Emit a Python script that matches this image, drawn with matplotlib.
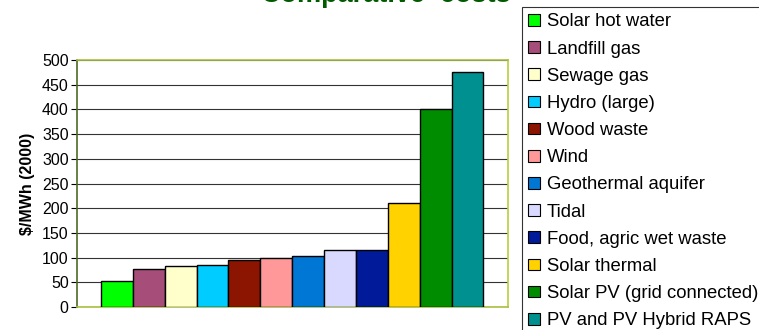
import matplotlib.pyplot as plt
import numpy as np

plt.rcParams['font.family'] = ['Liberation Sans', 'DejaVu Sans']

# data
sources = ["Solar hot water", "Landfill gas", "Sewage gas", "Hydro (large)",
           "Wood waste", "Wind", "Geothermal aquifer", "Tidal",
           "Food, agric wet waste", "Solar thermal", "Solar PV (grid connected)",
           "PV and PV Hybrid RAPS"]
costs = [52, 77, 83, 85, 95, 100, 103, 115, 115, 210, 400, 476]
colors = ["#00FF00", "#A64D79", "#FFFFCC", "#00CCFF", "#8B1500", "#FF9999",
          "#0077D4", "#D9D9FF", "#001A99", "#FFD200", "#008C00", "#009090"]

fig = plt.figure(figsize=(7.59, 3.30), dpi=100)
ax = fig.add_axes([77/759, 1-307/330, (508-77)/759, (307-60)/330])

x = np.arange(len(costs))
bars = ax.bar(x, costs, width=1.0, color=colors, edgecolor='black', linewidth=1.0,
              label=sources, zorder=3)

ax.set_xlim(-1.25, len(costs) - 1 + 1.27)
ax.set_ylim(0, 500)
ax.set_yticks(np.arange(0, 501, 50))
ax.yaxis.grid(True, color='#333333', linewidth=0.8, zorder=0)
ax.set_xticks([])
ax.tick_params(axis='y', labelsize=11.5, length=4, width=0.8, pad=2)

ax.spines['top'].set_color('#A8C040')
ax.spines['bottom'].set_color('#A8C040')
ax.spines['right'].set_color('#B8D040')
ax.spines['left'].set_color('#4D6B2A')
for s in ax.spines.values():
    s.set_linewidth(1.2)

ax.set_ylabel(r"\$/MWh (2000)", fontsize=11.5, fontweight='bold', labelpad=5)

# title sits mostly above the figure edge, as in the source image
fig.text(386/759, 1 - 1.5/330, "Comparative  costs", ha='center', va='baseline',
         fontsize=19.5, fontweight='bold', color='#005A00')

handles = [plt.Rectangle((0, 0), 1, 1, facecolor=c, edgecolor='black', linewidth=0.8)
           for c in colors]
leg = fig.legend(handles, sources, loc='upper left',
                 bbox_to_anchor=(522/759, 1 - 7/330), bbox_transform=fig.transFigure,
                 fontsize=13.3, frameon=True, fancybox=False, edgecolor='black',
                 handlelength=0.6, handleheight=0.6, handletextpad=0.4,
                 labelspacing=0.55, borderpad=0.35, borderaxespad=0)
leg.get_frame().set_linewidth(0.8)

fig.savefig("out.png", dpi=100)
